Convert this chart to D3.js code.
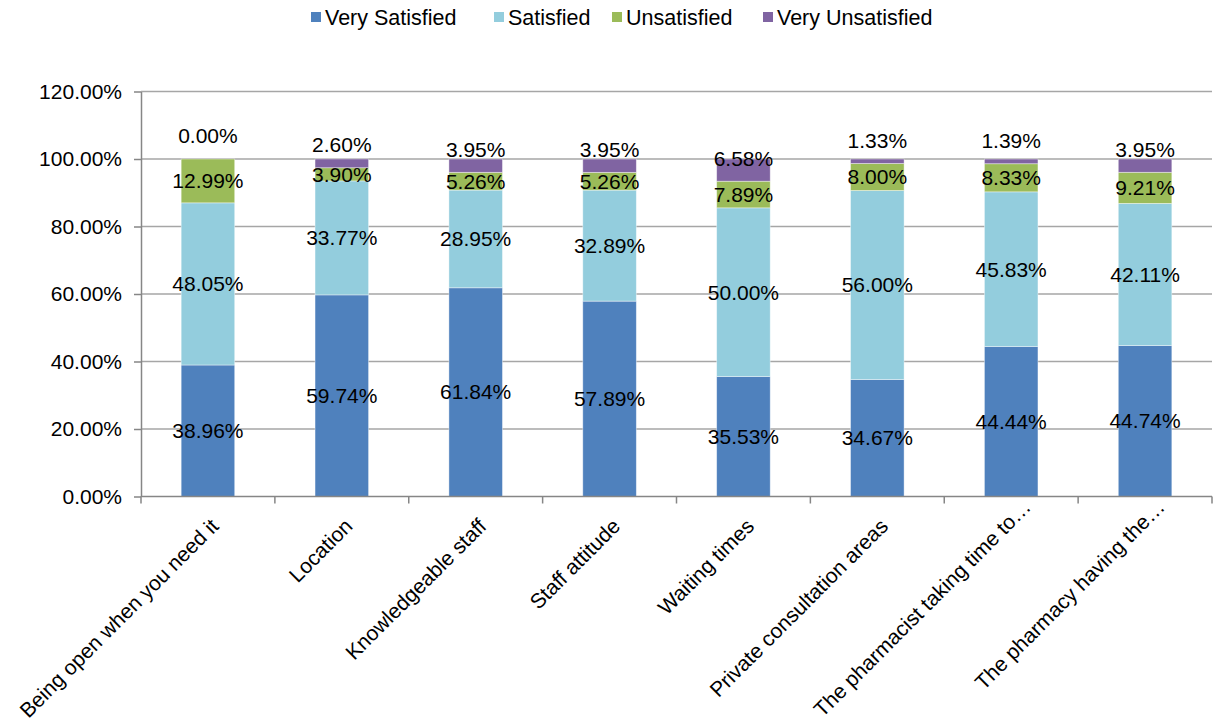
<!DOCTYPE html>
<html>
<head>
  <meta charset="utf-8">
  <script src="https://d3js.org/d3.v7.min.js"></script>
  <style>
    body { margin: 0; background: #fff; }
    svg { font-family: "Liberation Sans", Arial, sans-serif; }
    .grid line { stroke: #a6a6a6; stroke-width: 1.5; }
    .axis path, .axis line { stroke: #868686; stroke-width: 1.5; fill: none; }
    .axis text { fill: #000; font-size: 21px; }
    .val { font-size: 21px; fill: #000; }
    .legend text { font-size: 21.5px; fill: #000; }
  </style>
</head>
<body>
  <div id="chart"></div>
  <script>
    // data
    const categories = [
      "Being open when you need it",
      "Location",
      "Knowledgeable staff",
      "Staff attitude",
      "Waiting times",
      "Private consultation areas",
      "The pharmacist taking time to…",
      "The pharmacy having the…"
    ];
    const seriesNames = ["Very Satisfied", "Satisfied", "Unsatisfied", "Very Unsatisfied"];
    const verySatisfied   = [38.96, 59.74, 61.84, 57.89, 35.53, 34.67, 44.44, 44.74];
    const satisfied       = [48.05, 33.77, 28.95, 32.89, 50.00, 56.00, 45.83, 42.11];
    const unsatisfied     = [12.99, 3.90, 5.26, 5.26, 7.89, 8.00, 8.33, 9.21];
    const veryUnsatisfied = [0.00, 2.60, 3.95, 3.95, 6.58, 1.33, 1.39, 3.95];
    const yTicks = [0, 20, 40, 60, 80, 100, 120];

    const colors = ["#4f81bd", "#93cddd", "#9bbb59", "#8064a2"];

    const width = 1215, height = 722;
    const margin = { top: 91.5, right: 3, bottom: 225.5, left: 141 };
    const innerW = width - margin.left - margin.right;
    const innerH = height - margin.top - margin.bottom;

    const svg = d3.select("#chart").append("svg")
      .attr("width", width)
      .attr("height", height);

    const g = svg.append("g")
      .attr("transform", `translate(${margin.left},${margin.top})`);

    const x = d3.scaleBand().domain(categories).range([0, innerW]).paddingInner(0.6).paddingOuter(0.3);
    const y = d3.scaleLinear().domain([0, 120]).range([innerH, 0]);

    // gridlines
    g.append("g").attr("class", "grid")
      .selectAll("line").data(yTicks.filter(d => d > 0)).join("line")
      .attr("x1", 0).attr("x2", innerW)
      .attr("y1", d => y(d)).attr("y2", d => y(d));

    // stack
    const rows = categories.map((c, i) => ({
      cat: c,
      "Very Satisfied": verySatisfied[i],
      "Satisfied": satisfied[i],
      "Unsatisfied": unsatisfied[i],
      "Very Unsatisfied": veryUnsatisfied[i]
    }));
    const stacked = d3.stack().keys(seriesNames)(rows);

    const layers = g.selectAll(".layer").data(stacked).join("g")
      .attr("class", "layer")
      .attr("fill", (d, i) => colors[i]);

    layers.selectAll("rect").data(d => d).join("rect")
      .attr("x", d => x(d.data.cat))
      .attr("width", x.bandwidth())
      .attr("y", d => y(d[1]))
      .attr("height", d => y(d[0]) - y(d[1]))
      .attr("stroke", "#ffffff")
      .attr("stroke-opacity", 0.5)
      .attr("stroke-width", 0.8);

    // axes
    const yAxis = d3.axisLeft(y).tickValues(yTicks)
      .tickFormat(d => d.toFixed(2) + "%").tickSize(7).tickSizeOuter(0);
    g.append("g").attr("class", "axis").call(yAxis)
      .call(s => s.selectAll("text").attr("x", -19));

    const xAxisG = g.append("g").attr("class", "axis")
      .attr("transform", `translate(0,${innerH})`);
    xAxisG.append("line").attr("x1", 0).attr("x2", innerW);
    const step = innerW / categories.length;
    xAxisG.selectAll(".tk").data(d3.range(categories.length + 1)).join("line")
      .attr("x1", i => i * step).attr("x2", i => i * step)
      .attr("y1", 0).attr("y2", 7);
    // truncated labels (ending with …) sit a little higher, as in the original
    xAxisG.selectAll("text").data(categories).join("text")
      .attr("text-anchor", "end")
      .attr("transform", d => {
        const cx = x(d) + x.bandwidth() / 2;
        return d.endsWith("…")
          ? `translate(${cx + 21},${12}) rotate(-45)`
          : `translate(${cx + 12},${31}) rotate(-45)`;
      })
      .text(d => d);

    // value labels
    layers.each(function (layer, li) {
      d3.select(this).selectAll("text").data(layer).join("text")
        .attr("class", "val")
        .attr("fill", "#000")
        .attr("text-anchor", "middle")
        .attr("dy", "0.35em")
        .attr("x", d => x(d.data.cat) + x.bandwidth() / 2)
        .attr("y", d => li === seriesNames.length - 1
          ? y(d[0]) - 23
          : (y(d[0]) + y(d[1])) / 2)
        .text(d => (d[1] - d[0]).toFixed(2) + "%");
    });

    // legend
    const legendX = [311, 494, 612, 763];
    const legend = svg.append("g").attr("class", "legend");
    seriesNames.forEach((name, i) => {
      legend.append("rect")
        .attr("x", legendX[i]).attr("y", 12).attr("width", 10).attr("height", 10)
        .attr("fill", colors[i]);
      legend.append("text")
        .attr("x", legendX[i] + 14).attr("y", 17).attr("dy", "0.35em")
        .text(name);
    });
  </script>
</body>
</html>
